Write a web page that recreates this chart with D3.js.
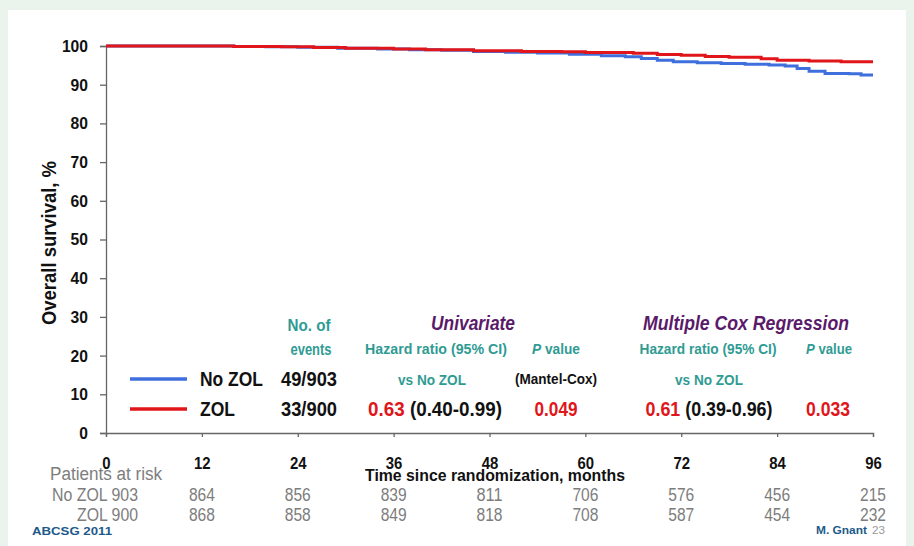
<!DOCTYPE html>
<html>
<head>
<meta charset="utf-8">
<script src="https://cdn.jsdelivr.net/npm/d3@7"></script>
<style>
  body { margin: 0; background: #eaf3ec; }
  svg text { font-family: 'Liberation Sans', Arial, sans-serif; font-weight: bold; }
</style>
</head>
<body>
<div id="km"></div>
<script>
// Kaplan-Meier curves (months, overall survival %)
var noZolMonths = [0, 16, 20, 24, 29, 34, 38, 42, 46, 50, 54, 58, 62, 65, 67, 69, 71, 74, 77, 80, 83, 85, 86.5, 88, 90, 93, 94.5, 96];
var noZolSurv   = [100, 99.9, 99.8, 99.7, 99.4, 99.2, 99.0, 98.9, 98.6, 98.4, 98.2, 97.9, 97.5, 97.2, 96.8, 96.3, 95.9, 95.7, 95.5, 95.3, 95.1, 94.8, 94.2, 93.5, 92.9, 92.8, 92.5, 92.5];
var zolMonths   = [0, 16, 22, 26, 30, 36, 40, 46, 52, 57, 60, 66, 69, 72, 75, 78, 82, 84, 88, 92, 96];
var zolSurv     = [100, 99.9, 99.8, 99.6, 99.4, 99.2, 99.0, 98.8, 98.6, 98.5, 98.3, 98.1, 97.8, 97.6, 97.3, 97.1, 96.7, 96.3, 96.1, 95.9, 95.9];

var xTicks = [0, 12, 24, 36, 48, 60, 72, 84, 96];
var yTicks = [0, 10, 20, 30, 40, 50, 60, 70, 80, 90, 100];

// patients at risk at each x tick
var riskNoZol = [903, 864, 856, 839, 811, 706, 576, 456, 215];
var riskZol   = [900, 868, 858, 849, 818, 708, 587, 454, 232];

var groups  = ["No ZOL", "ZOL"];
var events  = ["49/903", "33/900"];
var colors  = ["#3f6fdc", "#e0161b"];

var width = 914, height = 546;
var margin = {top: 46, right: 41, bottom: 113, left: 106};

var svg = d3.select("#km").append("svg")
  .attr("width", width)
  .attr("height", height);

// white slide panel
svg.append("rect")
  .attr("x", 8).attr("y", 10)
  .attr("width", 898).attr("height", 540)
  .attr("fill", "#fff");

// text helper, the slide uses a narrow face so widths are squeezed with textLength
function txt(tx, ty, str, o) {
  o = o || {};
  var t = svg.append("text")
    .attr("x", tx).attr("y", ty)
    .attr("text-anchor", o.anchor || "middle")
    .attr("fill", o.fill || "#111")
    .style("font-size", (o.size || 16) + "px")
    .style("font-weight", o.weight || "bold")
    .style("font-style", o.italic ? "italic" : "normal");
  if (str) t.text(str);
  if (o.w) t.attr("textLength", o.w).attr("lengthAdjust", "spacingAndGlyphs");
  return t;
}

var x = d3.scaleLinear().domain([0, 96]).range([margin.left, width - margin.right]);
var y = d3.scaleLinear().domain([0, 100]).range([height - margin.bottom, margin.top]);

// axes
var yAxis = svg.append("g")
  .attr("transform", "translate(" + margin.left + ",0)")
  .call(d3.axisLeft(y).tickValues(yTicks).tickSize(6).tickPadding(12));
yAxis.selectAll("text").style("font-size", "17px").attr("fill", "#111")
  .attr("textLength", function(d) { return String(d).length * 8.7; })
  .attr("lengthAdjust", "spacingAndGlyphs");

var xAxis = svg.append("g")
  .attr("transform", "translate(0," + (height - margin.bottom) + ")")
  .call(d3.axisBottom(x).tickValues(xTicks).tickSize(4));
xAxis.selectAll("text").style("font-size", "17px").attr("fill", "#111")
  .attr("y", 36).attr("dy", 0)
  .attr("textLength", function(d) { return String(d).length * 8.3; })
  .attr("lengthAdjust", "spacingAndGlyphs");

svg.selectAll(".domain, .tick line").attr("stroke", "#666").attr("stroke-width", 1.3);

// axis titles
txt(0, 0, "Overall survival, %", {size: 21, w: 164})
  .attr("x", null).attr("y", null)
  .attr("transform", "translate(56,243) rotate(-90)");

txt(495, 481, "Time since randomization, months", {size: 17, w: 260});

// curves
var curves = [
  d3.zip(noZolMonths, noZolSurv),
  d3.zip(zolMonths, zolSurv)
];
var line = d3.line()
  .x(function(d) { return x(d[0]); })
  .y(function(d) { return y(d[1]); })
  .curve(d3.curveStepAfter);

svg.selectAll(".km")
  .data(curves)
  .enter()
  .append("path")
  .attr("class", "km")
  .attr("d", line)
  .attr("fill", "none")
  .attr("stroke", function(d, i) { return colors[i]; })
  .attr("stroke-width", 3);

// legend + events
var legendY = [379, 409];
var nameW = [63, 35];
groups.forEach(function(g, i) {
  svg.append("line")
    .attr("x1", 130).attr("x2", 187)
    .attr("y1", legendY[i]).attr("y2", legendY[i])
    .attr("stroke", colors[i]).attr("stroke-width", 3.5);
  txt(200, legendY[i] + 7, g, {size: 20, anchor: "start", w: nameW[i]});
  txt(309, legendY[i] + 7, events[i], {size: 20, w: 56});
});

// statistics table
var teal = "#2f9b93", purple = "#5a1a6a", red = "#e0161b";
txt(309, 331, "No. of", {size: 16, fill: teal, w: 43});
txt(311, 355, "events", {size: 16, fill: teal, w: 41});

txt(473, 330, "Univariate", {size: 20, fill: purple, italic: true, w: 84});
txt(436, 354, "Hazard ratio (95% CI)", {size: 15, fill: teal, w: 142});
txt(432, 385, "vs No ZOL", {size: 15, fill: teal, w: 68});
txt(556, 384, "(Mantel-Cox)", {size: 14, w: 82});
var pv1 = txt(556, 354, "", {size: 15, fill: teal, w: 48});
pv1.append("tspan").style("font-style", "italic").text("P");
pv1.append("tspan").text(" value");
var hr1 = txt(435, 416, "", {size: 20, w: 134});
hr1.append("tspan").attr("fill", red).text("0.63");
hr1.append("tspan").text(" (0.40-0.99)");
txt(556, 416, "0.049", {size: 20, fill: red, w: 43});

txt(746, 330, "Multiple Cox Regression", {size: 20, fill: purple, italic: true, w: 206});
txt(708, 354, "Hazard ratio (95% CI)", {size: 15, fill: teal, w: 137});
txt(709, 385, "vs No ZOL", {size: 15, fill: teal, w: 68});
var pv2 = txt(829, 354, "", {size: 15, fill: teal, w: 46});
pv2.append("tspan").style("font-style", "italic").text("P");
pv2.append("tspan").text(" value");
var hr2 = txt(709, 416, "", {size: 20, w: 127});
hr2.append("tspan").attr("fill", red).text("0.61");
hr2.append("tspan").text(" (0.39-0.96)");
txt(828, 416, "0.033", {size: 20, fill: red, w: 44});

// patients at risk
var grey = "#7d7d7d";
txt(50, 480, "Patients at risk", {size: 18, anchor: "start", weight: "normal", fill: grey, w: 112});

[riskNoZol, riskZol].forEach(function(row, i) {
  var ry = [501, 521][i];
  txt(138, ry, groups[i] + " " + row[0], {size: 18, anchor: "end", weight: "normal", fill: grey, w: [86, 61][i]});
  svg.selectAll(".risk" + i)
    .data(row.slice(1))
    .enter()
    .append("text")
    .attr("class", "risk" + i)
    .attr("x", function(d, j) { return x(xTicks[j + 1]); })
    .attr("y", ry)
    .attr("text-anchor", "middle")
    .attr("textLength", 26)
    .attr("lengthAdjust", "spacingAndGlyphs")
    .style("font-size", "18px").style("font-weight", "normal")
    .attr("fill", grey)
    .text(function(d) { return d; });
});

// footer
txt(32, 535, "ABCSG 2011", {size: 11, anchor: "start", fill: "#1d5a8a", w: 80});
txt(816, 534, "M. Gnant", {size: 11, anchor: "start", fill: "#1d5a8a", w: 51});
txt(872, 534, "23", {size: 11, anchor: "start", weight: "normal", fill: "#999", w: 13});
</script>
</body>
</html>
